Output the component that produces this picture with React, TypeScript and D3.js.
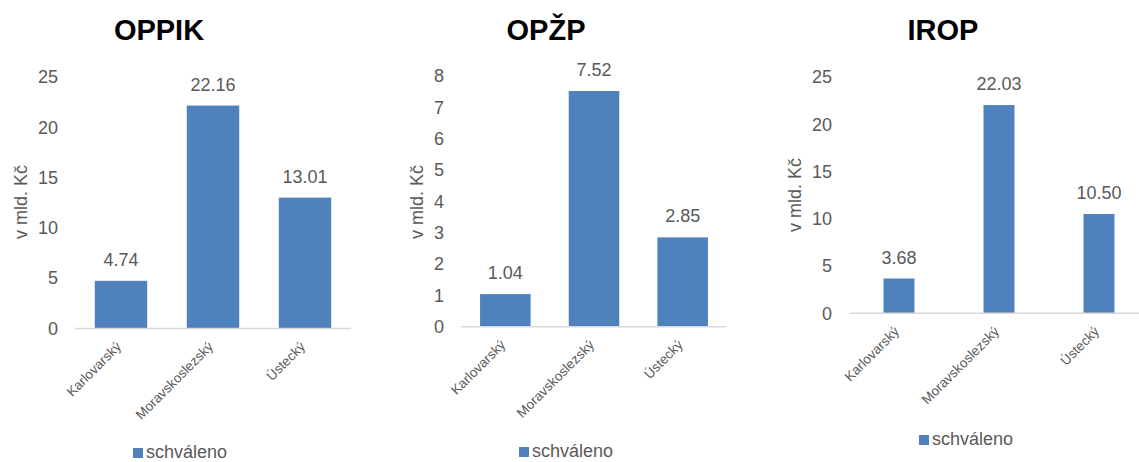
import { useEffect, useRef } from "react";
import * as d3 from "d3";

const categories = ["Karlovarský", "Moravskoslezský", "Ústecký"];
const titles = ["OPPIK", "OPŽP", "IROP"];
const oppikValues = [4.74, 22.16, 13.01];
const opzpValues = [1.04, 7.52, 2.85];
const iropValues = [3.68, 22.03, 10.5];
const oppikTicks = [0, 5, 10, 15, 20, 25];
const opzpTicks = [0, 1, 2, 3, 4, 5, 6, 7, 8];
const iropTicks = [0, 5, 10, 15, 20, 25];
const seriesName = "schváleno";
const yTitle = "v mld. Kč";

const BAR = "#4F81BD";
const TXT = "#595959";
const FONT = "'Liberation Sans', Arial, sans-serif";

// layout of each of the three panels
const panels = [
  { title: titles[0], values: oppikValues, ticks: oppikTicks, x0: 75, x1: 351, yBase: 328.5, yTop: 77, pad: 0.43, titleX: 159, yTitleX: 21, yTitleY: 202, legX: 133, legY: 448 },
  { title: titles[1], values: opzpValues, ticks: opzpTicks, x0: 461, x1: 727, yBase: 326.7, yTop: 76, pad: 0.43, titleX: 546, yTitleX: 417, yTitleY: 202, legX: 519, legY: 447 },
  { title: titles[2], values: iropValues, ticks: iropTicks, x0: 849, x1: 1149, yBase: 313.3, yTop: 77, pad: 0.69, titleX: 943, yTitleX: 795, yTitleY: 195, legX: 919, legY: 435 },
];

export default function App() {
  const svgRef = useRef<SVGSVGElement>(null);

  useEffect(() => {
    const svg = d3.select(svgRef.current);
    svg.selectAll("*").remove();

    svg.append("rect").attr("width", 1139).attr("height", 462).attr("fill", "#fff");

    panels.forEach((p) => {
      const g = svg.append("g");
      const x = d3.scaleBand<string>()
        .domain(categories)
        .range([p.x0, p.x1])
        .paddingInner(p.pad)
        .paddingOuter(p.pad / 2);
      const yMax = p.ticks[p.ticks.length - 1];
      const y = d3.scaleLinear().domain([0, yMax]).range([p.yBase, p.yTop]);

      // title
      g.append("text")
        .attr("x", p.titleX).attr("y", 40)
        .attr("text-anchor", "middle")
        .attr("font-family", FONT).attr("font-weight", 700)
        .attr("font-size", 29).attr("fill", "#000")
        .text(p.title);

      // y tick labels
      const ya = g.append("g")
        .attr("transform", `translate(${p.x0},0)`)
        .call(d3.axisLeft(y).tickValues(p.ticks).tickSize(0).tickPadding(17).tickFormat(d3.format("d")));
      ya.select(".domain").remove();
      ya.selectAll("text")
        .attr("font-family", FONT).attr("font-size", 18).attr("fill", TXT);

      // y axis title
      g.append("text")
        .attr("transform", `translate(${p.yTitleX},${p.yTitleY}) rotate(-90)`)
        .attr("text-anchor", "middle").attr("dy", "0.35em")
        .attr("font-family", FONT).attr("font-size", 18).attr("fill", TXT)
        .text(yTitle);

      // bars
      g.selectAll("rect.bar")
        .data(p.values)
        .join("rect")
        .attr("class", "bar")
        .attr("x", (_, i) => x(categories[i])!)
        .attr("width", x.bandwidth())
        .attr("y", (d) => y(d))
        .attr("height", (d) => p.yBase - y(d))
        .attr("fill", BAR);

      // data labels
      g.selectAll("text.val")
        .data(p.values)
        .join("text")
        .attr("class", "val")
        .attr("x", (_, i) => x(categories[i])! + x.bandwidth() / 2)
        .attr("y", (d) => y(d) - 15)
        .attr("text-anchor", "middle")
        .attr("font-family", FONT).attr("font-size", 18).attr("fill", TXT)
        .text((d) => d.toFixed(2));

      // x axis line
      g.append("line")
        .attr("x1", p.x0).attr("x2", p.x1)
        .attr("y1", p.yBase).attr("y2", p.yBase)
        .attr("stroke", "#D9D9D9").attr("stroke-width", 1.5);

      // category labels
      g.selectAll("text.cat")
        .data(categories)
        .join("text")
        .attr("class", "cat")
        .attr("transform", (c) => `translate(${x(c)! + x.bandwidth() / 2 + 1},${p.yBase + 19}) rotate(-45)`)
        .attr("text-anchor", "end")
        .attr("font-family", FONT).attr("font-size", 13.5).attr("fill", TXT)
        .text((c) => c);

      // legend
      g.append("rect")
        .attr("x", p.legX).attr("y", p.legY)
        .attr("width", 10).attr("height", 10)
        .attr("fill", BAR);
      g.append("text")
        .attr("x", p.legX + 13).attr("y", p.legY + 10)
        .attr("font-family", FONT).attr("font-size", 18).attr("fill", TXT)
        .text(seriesName);
    });
  }, []);

  return (
    <svg
      ref={svgRef}
      width={1139}
      height={462}
      style={{ position: "absolute", left: 0, top: 0, display: "block" }}
    />
  );
}
